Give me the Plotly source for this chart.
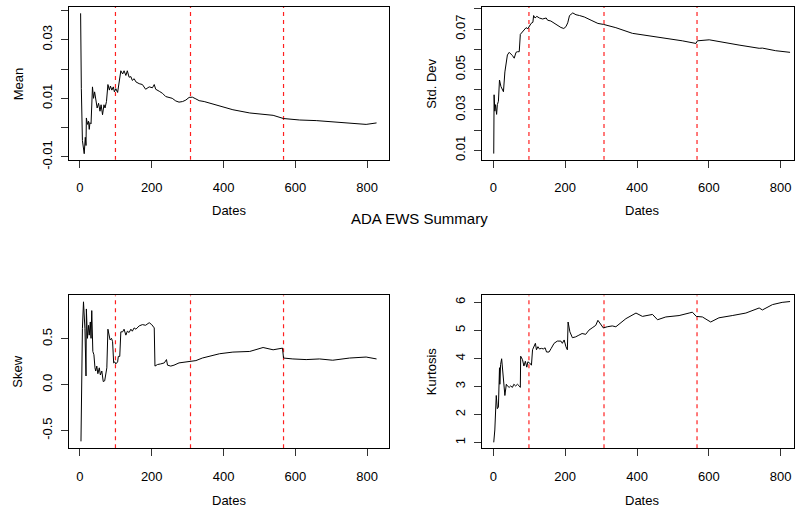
import plotly.graph_objects as go

W, H = 795, 521

# ---------------- data ----------------
mean_t = [2, 3, 4, 7, 12, 15, 17, 18, 21, 24,
          26, 28, 31, 35, 38, 41, 44, 48, 52, 56,
          59, 63, 67, 70, 74, 78, 82, 85, 89, 93,
          96, 100, 105, 109, 114, 119, 123, 128, 132, 137,
          142, 146, 151, 156, 165, 174, 183, 193, 202, 207,
          211, 221, 230, 239, 248, 257, 267, 276, 286, 295,
          304, 313, 323, 332, 346, 352, 380, 426, 473, 519,
          538, 567, 612, 658, 704, 751, 797, 826]
mean_v = [0.039, 0.0178, 0.0133, -0.0044, -0.0089, -0.0033, -0.0061, 0.0033, 0.0011, 0.0022,
          -0.0006, 0.0017, 0.0013, 0.0139, 0.010, 0.0122, 0.0089, 0.0067, 0.0083, 0.0056,
          0.0078, 0.0044, 0.0078, 0.0067, 0.0089, 0.0147, 0.0128, 0.0142, 0.0128, 0.0139,
          0.0122, 0.0133, 0.012, 0.0156, 0.0194, 0.0183, 0.0194, 0.0178, 0.0194, 0.0172,
          0.0174, 0.0161, 0.0167, 0.0156, 0.015, 0.0147, 0.0131, 0.0139, 0.0136, 0.0147,
          0.0131, 0.0124, 0.0117, 0.0106, 0.0102, 0.010, 0.0091, 0.0087, 0.0089, 0.0094,
          0.0103, 0.0104, 0.0098, 0.0092, 0.0089, 0.0087, 0.0078, 0.0061, 0.005, 0.0044,
          0.0042, 0.0031, 0.0026, 0.0024, 0.002, 0.0017, 0.0011, 0.0016]

sd_t = [1, 2, 4, 6, 9, 11, 14, 17, 21, 26,
        28, 32, 36, 39, 44, 49, 53, 58, 63, 67,
        72, 75, 79, 82, 86, 91, 96, 100, 105, 110,
        112, 116, 121, 128, 137, 147, 151, 160, 170, 179,
        188, 196, 202, 207, 212, 221, 230, 240, 253, 272,
        291, 307, 328, 341, 387, 434, 462, 480, 526, 564,
        568, 601, 638, 684, 740, 749, 786, 826]
sd_v = [0.0084, 0.0375, 0.0294, 0.0326, 0.0278, 0.0326, 0.0343, 0.0448, 0.0416, 0.0391,
        0.039, 0.0488, 0.0545, 0.0572, 0.0585, 0.0577, 0.0569, 0.0556, 0.0585, 0.0588,
        0.0588, 0.0674, 0.0683, 0.0685, 0.0695, 0.0707, 0.0702, 0.0715, 0.0728, 0.0734,
        0.0767, 0.0755, 0.0763, 0.0755, 0.075, 0.0755, 0.0744, 0.074, 0.0728, 0.0718,
        0.0708, 0.0703, 0.0712, 0.0731, 0.0767, 0.078, 0.0771, 0.0767, 0.076, 0.0744,
        0.0728, 0.0723, 0.0715, 0.0707, 0.0679, 0.0666, 0.0661, 0.0653, 0.0642, 0.0629,
        0.0642, 0.0647, 0.0634, 0.0621, 0.0605, 0.0606, 0.0593, 0.0585]

sk_t = [3, 5, 7, 10, 14, 17, 18, 21, 24, 26,
        29, 31, 33, 36, 39, 42, 44, 47, 50, 54,
        57, 61, 65, 69, 72, 75, 78, 82, 84, 88,
        91, 94, 97, 100, 105, 107, 111, 114, 119, 123,
        128, 132, 137, 142, 146, 151, 156, 165, 174, 183,
        193, 200, 207, 209, 216, 225, 235, 241, 244, 253,
        262, 276, 295, 309, 323, 341, 352, 389, 426, 473,
        510, 538, 564, 567, 593, 630, 667, 704, 751, 797,
        826]
sk_v = [-0.618, 0.006, 0.614, 0.906, 0.614, 0.096, 0.828, 0.507, 0.649, 0.542,
        0.686, 0.507, 0.81, 0.364, 0.328, 0.185, 0.15, 0.204, 0.121, 0.185,
        0.107, 0.15, 0.035, 0.043, 0.15, 0.185, 0.607, 0.542, 0.49, 0.507,
        0.471, 0.239, 0.25, 0.228, 0.25, 0.31, 0.31, 0.578, 0.578, 0.607,
        0.542, 0.585, 0.571, 0.607, 0.585, 0.621, 0.607, 0.643, 0.657, 0.65,
        0.678, 0.657, 0.621, 0.204, 0.221, 0.228, 0.239, 0.275, 0.214, 0.204,
        0.214, 0.239, 0.25, 0.25, 0.264, 0.292, 0.303, 0.339, 0.357, 0.364,
        0.407, 0.382, 0.4, 0.292, 0.282, 0.275, 0.282, 0.268, 0.292, 0.303,
        0.282]

ku_t = [1, 4, 8, 11, 14, 17, 18, 20, 23, 26,
        30, 32, 36, 39, 44, 48, 53, 57, 62, 67,
        72, 75, 76, 81, 85, 89, 93, 96, 101, 106,
        109, 113, 117, 120, 124, 128, 134, 139, 144, 148,
        155, 161, 169, 178, 188, 192, 197, 202, 206, 208,
        213, 220, 229, 238, 247, 257, 266, 275, 285, 291,
        299, 306, 317, 331, 341, 369, 397, 415, 443, 457,
        480, 517, 545, 554, 565, 582, 605, 628, 665, 703,
        740, 749, 777, 804, 826]
ku_v = [1.01, 1.45, 2.68, 2.21, 2.27, 3.67, 3.08, 3.78, 3.99, 3.55,
        3.08, 2.68, 3.08, 3.02, 2.97, 3.02, 2.97, 3.08, 3.02, 3.08,
        3.02, 2.97, 4.08, 3.96, 3.73, 3.9, 3.69, 3.88, 3.84, 3.76,
        4.31, 4.42, 4.54, 4.31, 4.42, 4.34, 4.36, 4.34, 4.38, 4.23,
        4.23, 4.36, 4.54, 4.62, 4.62, 4.54, 4.66, 4.42, 4.31, 5.3,
        4.95, 4.74, 4.77, 4.83, 4.89, 4.86, 5.01, 5.09, 5.18, 5.36,
        5.2, 5.09, 5.13, 5.16, 5.13, 5.42, 5.62, 5.5, 5.57, 5.38,
        5.48, 5.53, 5.62, 5.65, 5.5, 5.48, 5.3, 5.45, 5.53, 5.62,
        5.8, 5.73, 5.92, 6.0, 6.03]

change_points = [99, 308, 567]
x_ticks = [0, 200, 400, 600, 800]

mean_ticks = [-0.01, 0.0, 0.01, 0.02, 0.03, 0.04]
mean_ticktext = ["-0.01", "", "0.01", "", "0.03", ""]
sd_ticks = [0.01, 0.02, 0.03, 0.04, 0.05, 0.06, 0.07, 0.08]
sd_ticktext = ["0.01", "", "0.03", "", "0.05", "", "0.07", ""]
sk_ticks = [-0.5, 0.0, 0.5]
sk_ticktext = ["-0.5", "0.0", "0.5"]
ku_ticks = [1, 2, 3, 4, 5, 6]
ku_ticktext = ["1", "2", "3", "4", "5", "6"]

title_text = "ADA EWS Summary"
x_title = "Dates"
y_titles = ["Mean", "Std. Dev", "Skew", "Kurtosis"]

# ---------------- layout geometry (pixels) ----------------
FONT = "Liberation Sans, Arial, sans-serif"
panels = [
    (mean_t, mean_v, (69, 389), (7, 163), (-30.6, 859.3), (-0.011, 0.0412), mean_ticks, mean_ticktext),
    (sd_t, sd_v, (482.5, 795), (7, 163), (-32.0, 837.0), (0.00529, 0.0810), sd_ticks, sd_ticktext),
    (sk_t, sk_v, (69, 389), (301, 457), (-30.6, 859.3), (-0.693, 0.978), sk_ticks, sk_ticktext),
    (ku_t, ku_v, (482.5, 795), (301, 457), (-32.0, 837.0), (0.80, 6.255), ku_ticks, ku_ticktext),
]

fig = go.Figure()
layout = dict(
    width=W, height=H, margin=dict(l=0, r=0, t=0, b=0),
    paper_bgcolor="white", plot_bgcolor="white",
    showlegend=False, font=dict(family=FONT, size=13, color="black"),
)
annotations = []

for i, (t, v, xd, yd, xr, yr, tv, tt) in enumerate(panels):
    n = "" if i == 0 else str(i + 1)
    xa, ya = "x" + n, "y" + n
    # change-point markers (red dashed verticals spanning the panel)
    for cp in change_points:
        fig.add_trace(go.Scatter(x=[cp, cp], y=[yr[0], yr[1]], mode="lines", xaxis=xa, yaxis=ya,
                                 line=dict(color="#ff2020", width=1.2, dash="4px,4px"),
                                 hoverinfo="skip"))
    fig.add_trace(go.Scatter(x=t, y=v, mode="lines", xaxis=xa, yaxis=ya,
                             line=dict(color="black", width=1), hoverinfo="skip"))
    common = dict(showgrid=False, zeroline=False, showline=True, mirror=True,
                  linecolor="black", linewidth=1, ticks="outside", ticklen=7,
                  tickcolor="#333", tickwidth=1, tickfont=dict(family=FONT, size=13, color="black"))
    layout["xaxis" + n] = dict(common, domain=[xd[0] / W, min(xd[1] / W, 1.0)], range=list(xr),
                               anchor=ya, tickvals=x_ticks, ticktext=[str(x) for x in x_ticks],
                               ticklabelstandoff=9)
    layout["yaxis" + n] = dict(common, domain=[1 - yd[1] / H, 1 - yd[0] / H], range=list(yr),
                               anchor=xa, tickvals=tv, ticktext=tt, tickangle=-90,
                               ticklabelstandoff=4)
    xc = (xd[0] + (xd[1] if i % 2 == 0 else 803)) / 2
    ty = 215 if i < 2 else 510
    annotations.append(dict(text=x_title, x=xc / W, y=1 - ty / H, xref="paper", yref="paper",
                            showarrow=False, xanchor="center", yanchor="middle",
                            font=dict(family=FONT, size=13, color="black")))
    yx = 18 if i % 2 == 0 else 432
    annotations.append(dict(text=y_titles[i], x=yx / W, y=1 - ((yd[0] + yd[1]) / 2) / H,
                            xref="paper", yref="paper", showarrow=False, textangle=-90,
                            xanchor="center", yanchor="middle",
                            font=dict(family=FONT, size=13, color="black")))

annotations.append(dict(text=title_text, x=420 / W, y=1 - 223 / H, xref="paper", yref="paper",
                        showarrow=False, xanchor="center", yanchor="middle",
                        font=dict(family=FONT, size=15, color="black")))

layout["annotations"] = annotations
fig.update_layout(**layout)
fig.write_html("out.html")
